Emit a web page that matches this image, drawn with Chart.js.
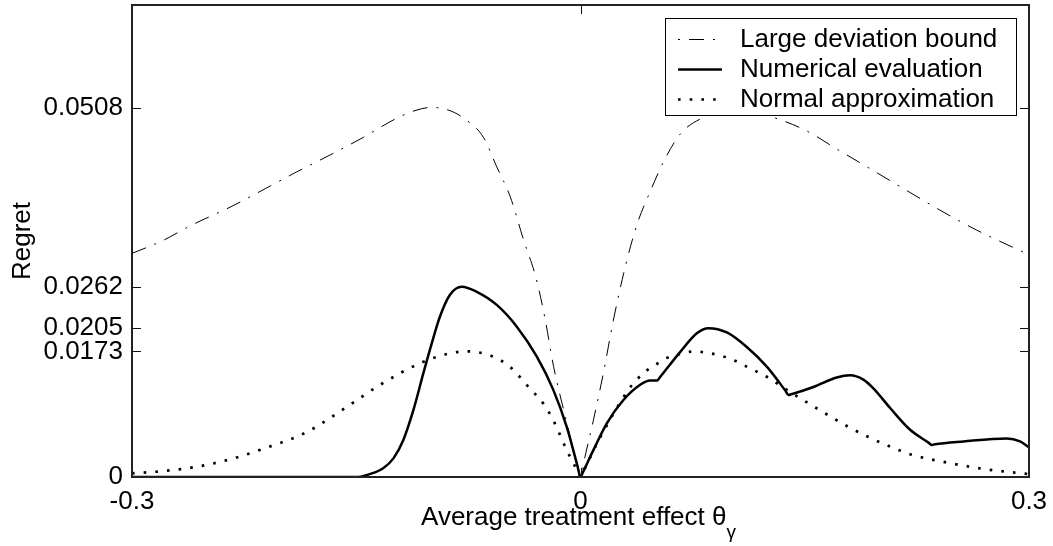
<!DOCTYPE html>
<html><head><meta charset="utf-8">
<script src="https://cdn.jsdelivr.net/npm/chart.js@4"></script>
<style>html,body{margin:0;padding:0;background:#fff}#wrap{width:1053px;height:546px}</style>
</head><body><div id="wrap"><canvas id="c" width="1053" height="546"></canvas></div>
<script>
const seriesNames = ['Large deviation bound', 'Numerical evaluation', 'Normal approximation'];

const ldX = [-0.3, -0.28, -0.26, -0.234, -0.21, -0.19, -0.167, -0.145, -0.123, -0.11, -0.1, -0.088, -0.078, -0.065, -0.056, -0.047, -0.038, -0.03, -0.024, -0.018, -0.011, -0.005, -0.002, 0, 0.003, 0.0086, 0.0153, 0.022, 0.03, 0.038, 0.047, 0.056, 0.067, 0.083, 0.1, 0.115, 0.128, 0.15, 0.172, 0.195, 0.217, 0.24, 0.265, 0.3];
const ldY = [0.0308, 0.0325, 0.0347, 0.0372, 0.0398, 0.042, 0.0444, 0.0468, 0.0494, 0.0505, 0.0509, 0.0505, 0.0494, 0.0468, 0.0427, 0.0386, 0.0326, 0.0276, 0.0221, 0.0152, 0.009, 0.004, 0.0016, 0, 0.0028, 0.0078, 0.0143, 0.0216, 0.029, 0.0349, 0.0395, 0.0436, 0.0473, 0.0496, 0.0508, 0.0504, 0.0496, 0.0478, 0.0451, 0.0423, 0.0396, 0.0368, 0.034, 0.0306];

const numX = [-0.3, -0.2, -0.15, -0.141, -0.132, -0.125, -0.1185, -0.1118, -0.1051, -0.0995, -0.094, -0.0873, -0.0794, -0.0694, -0.056, -0.0426, -0.0293, -0.0182, -0.0092, -0.002, 0, 0.0015, 0.0086, 0.0176, 0.0287, 0.0399, 0.0465, 0.0514, 0.053, 0.0666, 0.0778, 0.0856, 0.0979, 0.1112, 0.1246, 0.137, 0.1391, 0.141, 0.1558, 0.1714, 0.1803, 0.1892, 0.1959, 0.2071, 0.2205, 0.233, 0.235, 0.237, 0.2562, 0.2852, 0.294, 0.3];
const numY = [0, 0, 0, 0.0004, 0.0012, 0.0026, 0.0051, 0.0092, 0.0143, 0.0184, 0.0221, 0.0251, 0.0262, 0.0255, 0.0237, 0.0207, 0.0166, 0.012, 0.0069, 0.0015, 0, 0.0006, 0.0037, 0.0074, 0.0106, 0.0127, 0.0133, 0.0133, 0.0137, 0.0172, 0.0198, 0.0205, 0.0199, 0.0179, 0.0152, 0.0119, 0.0113, 0.0114, 0.0124, 0.0137, 0.014, 0.0134, 0.0122, 0.0095, 0.0065, 0.0047, 0.0044, 0.0045, 0.0049, 0.0053, 0.0049, 0.0041];

const normX = [-0.3, -0.28, -0.257, -0.235, -0.212, -0.183, -0.156, -0.134, -0.107, -0.09, -0.076, -0.06, -0.048, -0.033, -0.0248, -0.0182, -0.0092, -0.002, 0, 0.002, 0.012, 0.032, 0.0376, 0.0432, 0.0499, 0.0566, 0.066, 0.076, 0.0878, 0.0956, 0.1034, 0.1101, 0.1246, 0.138, 0.1513, 0.1658, 0.1792, 0.1937, 0.2082, 0.2227, 0.24, 0.27, 0.295, 0.3];
const normY = [0.0005, 0.0008, 0.0014, 0.0024, 0.0039, 0.0062, 0.0097, 0.0127, 0.0157, 0.0169, 0.0173, 0.0167, 0.0153, 0.012, 0.0101, 0.0078, 0.0037, 0.0008, 0, 0.0008, 0.005, 0.012, 0.0134, 0.0145, 0.0154, 0.0163, 0.0169, 0.0173, 0.017, 0.0166, 0.016, 0.0153, 0.0138, 0.012, 0.0103, 0.0085, 0.0069, 0.0054, 0.0041, 0.003, 0.0022, 0.0011, 0.0005, 0.0004];

const xTicks = [-0.3, 0, 0.3];
const xTickLabels = ['-0.3', '0', '0.3'];
const yTicks = [0, 0.0173, 0.0205, 0.0262, 0.0508];
const yTickLabels = ['0', '0.0173', '0.0205', '0.0262', '0.0508'];
const yTitle = 'Regret';
const xTitle = 'Average treatment effect θ';
const xTitleSub = 'γ';

const FONT = '"Liberation Sans", Arial, sans-serif';
const pts = (xs, ys) => xs.map((x, i) => ({x: x, y: ys[i]}));

const framePlugin = {
  id: 'frame',
  afterDatasetsDraw(chart) {
    const {ctx, chartArea: a, scales} = chart;
    const xs = scales.x, ys = scales.y;
    ctx.save();
    ctx.strokeStyle = '#111';
    ctx.lineWidth = 1;
    ctx.setLineDash([]);
    ctx.beginPath();
    ys.ticks.forEach(t => {
      const py = Math.round(ys.getPixelForValue(t.value)) + 0.5;
      ctx.moveTo(a.left, py); ctx.lineTo(a.left + 9, py);
      ctx.moveTo(a.right, py); ctx.lineTo(a.right - 9, py);
    });
    xs.ticks.forEach(t => {
      const px = Math.round(xs.getPixelForValue(t.value)) + 0.5;
      ctx.moveTo(px, a.bottom); ctx.lineTo(px, a.bottom - 9);
      ctx.moveTo(px, a.top); ctx.lineTo(px, a.top + 9);
    });
    ctx.stroke();
    ctx.lineWidth = 2;
    ctx.strokeStyle = '#222';
    ctx.strokeRect(a.left, a.top, a.right - a.left, a.bottom - a.top);
    ctx.restore();
  },
  afterDraw(chart) {
    const {ctx, chartArea: a} = chart;
    ctx.save();
    const bw = 351, bh = 97;
    const bx = a.right - 13 - bw, by = a.top + 13;
    ctx.fillStyle = '#fff';
    ctx.fillRect(bx, by, bw, bh);
    ctx.strokeStyle = '#000';
    ctx.lineWidth = 1;
    ctx.setLineDash([]);
    ctx.strokeRect(bx + 0.5, by + 0.5, bw, bh);
    ctx.font = '26px ' + FONT;
    ctx.fillStyle = '#000';
    ctx.textBaseline = 'alphabetic';
    ctx.textAlign = 'left';
    chart.data.datasets.forEach((ds, i) => {
      const ly = by + 21 + 30 * i;
      ctx.save();
      ctx.strokeStyle = ds.borderColor;
      ctx.lineWidth = ds.borderWidth;
      ctx.lineCap = 'butt';
      ctx.setLineDash(ds.borderDash || []);
      ctx.lineDashOffset = i === 0 ? 24 : 0;
      ctx.beginPath();
      ctx.moveTo(bx + 13, ly + 0.5);
      ctx.lineTo(bx + 57, ly + 0.5);
      ctx.stroke();
      ctx.restore();
      ctx.fillText(ds.label, bx + 75, by + 29 + 30 * i);
    });
    ctx.font = '26px ' + FONT;
    const wMain = ctx.measureText(xTitle).width;
    ctx.font = '19px ' + FONT;
    const wSub = ctx.measureText(xTitleSub).width;
    const cx = (a.left + a.right) / 2 - 2;
    const sx = cx - (wMain + wSub) / 2;
    ctx.font = '26px ' + FONT;
    ctx.fillText(xTitle, sx, 525);
    ctx.font = '19px ' + FONT;
    ctx.fillText(xTitleSub, sx + wMain, 538);
    ctx.restore();
  }
};

const noPad = s => { s.paddingTop = 0; s.paddingBottom = 0; s.paddingLeft = 0; s.paddingRight = 0; };

new Chart(document.getElementById('c'), {
  type: 'line',
  data: {
    datasets: [
      {label: seriesNames[0], data: pts(ldX, ldY), borderColor: '#000', borderWidth: 1, borderDash: [15, 9, 2, 9], pointRadius: 0, cubicInterpolationMode: 'monotone', fill: false},
      {label: seriesNames[1], data: pts(numX, numY), borderColor: '#000', borderWidth: 2.5, pointRadius: 0, cubicInterpolationMode: 'monotone', fill: false},
      {label: seriesNames[2], data: pts(normX, normY), borderColor: '#000', borderWidth: 2.7, borderDash: [2.6, 9.1], pointRadius: 0, cubicInterpolationMode: 'monotone', fill: false}
    ]
  },
  options: {
    responsive: false,
    animation: false,
    devicePixelRatio: 1,
    layout: {padding: {top: 5, right: 24, bottom: 0, left: 0}},
    plugins: {legend: {display: false}, tooltip: {enabled: false}},
    scales: {
      x: {
        type: 'linear', min: -0.3, max: 0.3,
        afterBuildTicks: s => { s.ticks = xTicks.map(v => ({value: v})); },
        afterFit: s => { s.height = 69; noPad(s); },
        grid: {display: false, drawTicks: false},
        border: {display: false},
        ticks: {autoSkip: false, maxRotation: 0, padding: 9, color: '#000', font: {family: FONT, size: 26},
          callback: (v, i) => xTickLabels[i]}
      },
      y: {
        type: 'linear', min: 0, max: 0.065,
        afterBuildTicks: s => { s.ticks = yTicks.map(v => ({value: v})); },
        afterFit: s => { s.width = 132; noPad(s); },
        grid: {display: false, drawTicks: false},
        border: {display: false},
        ticks: {autoSkip: false, padding: 9, color: '#000', font: {family: FONT, size: 26},
          callback: (v, i) => yTickLabels[i]},
        title: {display: true, text: yTitle, color: '#000', font: {family: FONT, size: 26}, padding: {top: 7, bottom: 0}}
      }
    }
  },
  plugins: [framePlugin]
});
</script>
</body></html>
